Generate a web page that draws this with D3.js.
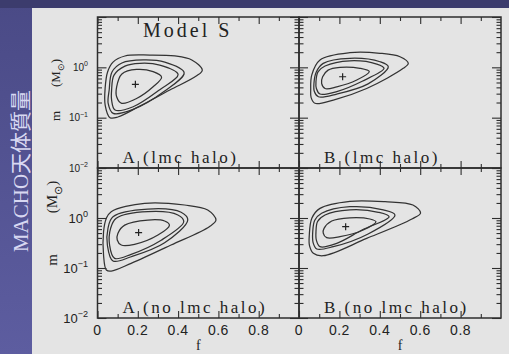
<!DOCTYPE html>
<meta charset="utf-8">
<html>
<head>
<title>MACHO mass contours</title>
<style>
  body { margin: 0; background: #4d4d8c; }
  svg { display: block; }
</style>
<script src="https://d3js.org/d3.v7.min.js"></script>
</head>
<body>
<div id="chart"></div>
<script>

// ##### data #####
var title = "Model S";
var sideTitle = "MACHO天体質量";
var panelNames = ["A (lmc halo)", "B (lmc halo)", "A (no lmc halo)", "B (no lmc halo)"];
var fDomain = [0, 1];
var mDomain = [0.01, 10];
var xTickLabels = ["0", "0.2", "0.4", "0.6", "0.8"];
var yLabelExps = [0, -1, -2];

// best fit (+) of each panel, [f, m]
var peaks = [[0.188, 0.46], [0.216, 0.65], [0.204, 0.51], [0.231, 0.67]];

// contours of each panel, inner to outer, points [f, m]
var contoursALmc = [
  [[0.095,0.41],[0.121,0.74],[0.194,0.91],[0.276,0.82],[0.318,0.64],[0.276,0.41],[0.194,0.24],[0.12,0.193],[0.095,0.26]],
  [[0.07,0.354],[0.082,0.70],[0.136,1.06],[0.21,1.20],[0.309,1.11],[0.40,0.72],[0.309,0.36],[0.177,0.165],[0.087,0.142],[0.07,0.224]],
  [[0.058,0.354],[0.072,0.81],[0.121,1.22],[0.227,1.40],[0.334,1.27],[0.43,0.78],[0.33,0.33],[0.177,0.146],[0.078,0.122],[0.053,0.193]],
  [[0.038,0.39],[0.05,0.81],[0.077,1.27],[0.136,1.68],[0.26,1.75],[0.384,1.68],[0.468,1.40],[0.52,0.88],[0.49,0.67],[0.359,0.354],[0.21,0.17],[0.101,0.103],[0.062,0.100],[0.038,0.178]]
];
var contoursBLmc = [
  [[0.117,0.65],[0.144,0.88],[0.203,1.0],[0.302,0.955],[0.348,0.82],[0.286,0.56],[0.187,0.41],[0.129,0.38],[0.112,0.48]],
  [[0.084,0.52],[0.094,0.81],[0.129,1.06],[0.252,1.35],[0.385,1.16],[0.421,0.955],[0.313,0.53],[0.187,0.33],[0.104,0.295],[0.086,0.38]],
  [[0.074,0.48],[0.085,0.80],[0.12,1.20],[0.252,1.51],[0.401,1.29],[0.442,1.03],[0.342,0.47],[0.187,0.295],[0.096,0.26],[0.076,0.33]],
  [[0.058,0.354],[0.063,0.70],[0.104,1.40],[0.252,1.95],[0.401,1.90],[0.5,1.62],[0.541,1.20],[0.516,0.955],[0.335,0.38],[0.17,0.224],[0.079,0.193],[0.06,0.25]]
];
var contoursANoLmc = [
  [[0.101,0.49],[0.135,0.72],[0.25,0.91],[0.333,0.87],[0.357,0.72],[0.30,0.457],[0.184,0.298],[0.118,0.288],[0.098,0.363]],
  [[0.065,0.62],[0.093,0.99],[0.25,1.34],[0.399,1.15],[0.428,0.84],[0.316,0.36],[0.167,0.188],[0.085,0.156],[0.06,0.288]],
  [[0.052,0.62],[0.077,1.06],[0.25,1.51],[0.415,1.30],[0.448,0.91],[0.333,0.32],[0.167,0.168],[0.077,0.138],[0.049,0.288]],
  [[0.03,0.53],[0.044,0.99],[0.068,1.34],[0.234,1.97],[0.432,1.82],[0.547,1.45],[0.588,0.91],[0.555,0.67],[0.365,0.288],[0.167,0.124],[0.068,0.087],[0.044,0.091],[0.03,0.182]]
];
var contoursBNoLmc = [
  [[0.124,0.62],[0.162,0.87],[0.252,1.01],[0.351,0.955],[0.381,0.84],[0.318,0.575],[0.203,0.423],[0.137,0.404],[0.12,0.50]],
  [[0.084,0.53],[0.092,0.85],[0.129,1.15],[0.252,1.45],[0.393,1.30],[0.446,1.06],[0.312,0.575],[0.187,0.312],[0.104,0.267],[0.086,0.36]],
  [[0.068,0.53],[0.078,0.90],[0.112,1.24],[0.252,1.68],[0.417,1.45],[0.475,1.15],[0.342,0.48],[0.17,0.267],[0.088,0.24],[0.07,0.32]],
  [[0.051,0.457],[0.064,1.0],[0.104,1.56],[0.252,2.16],[0.426,2.12],[0.564,1.82],[0.602,1.26],[0.559,0.955],[0.335,0.39],[0.12,0.176],[0.071,0.197],[0.052,0.28]]
];

// ##### layout #####
var width = 509, height = 354;
var cols = [[97.5, 299], [299, 501]];
var rows = [[17, 168], [168, 318]];
var ink = "#2e2e2e";

var svg = d3.select("#chart")
  .append("svg")
    .attr("width", width)
    .attr("height", height);

// slide background
var defs = svg.append("defs");
var grad = defs.append("linearGradient").attr("id", "strip")
    .attr("x1", 0).attr("y1", 0).attr("x2", 0).attr("y2", 1);
grad.append("stop").attr("offset", 0).attr("stop-color", "#4a4a86");
grad.append("stop").attr("offset", 1).attr("stop-color", "#5d5da0");

svg.append("rect")
    .attr("width", width).attr("height", height)
    .attr("fill", "url(#strip)");
svg.append("rect")
    .attr("width", width).attr("height", 8)
    .attr("fill", "#3c3c6d");
svg.append("rect")
    .attr("x", 32).attr("y", 8)
    .attr("width", width - 32).attr("height", height - 8)
    .attr("fill", "#e4e4e4");

// vertical title on the left strip
svg.append("text")
    .attr("transform", "translate(28,171) rotate(-90)")
    .attr("text-anchor", "middle")
    .style("font-family", "'Liberation Serif', 'Noto Sans CJK JP', serif")
    .style("font-size", "21px")
    .attr("fill", "#d8d8f2")
    .text(sideTitle);

var panels = [
  {name: panelNames[0], col: 0, row: 0, contours: contoursALmc, peak: peaks[0]},
  {name: panelNames[1], col: 1, row: 0, contours: contoursBLmc, peak: peaks[1]},
  {name: panelNames[2], col: 0, row: 1, contours: contoursANoLmc, peak: peaks[2]},
  {name: panelNames[3], col: 1, row: 1, contours: contoursBNoLmc, peak: peaks[3]}
];

var xMajor = [0, 0.2, 0.4, 0.6, 0.8];
var xMinor = [0.1, 0.3, 0.5, 0.7, 0.9];

panels.forEach(function(p) {
  var x = d3.scaleLinear().domain(fDomain).range(cols[p.col]);
  var y = d3.scaleLog().domain(mDomain).range([rows[p.row][1], rows[p.row][0]]);
  var g = svg.append("g");
  var x0 = cols[p.col][0], x1 = cols[p.col][1];
  var y0 = rows[p.row][0], y1 = rows[p.row][1];

  var yAll = y.ticks();
  var yMaj = yAll.filter(function(d) {
    var l = Math.log10(d); return Math.abs(l - Math.round(l)) < 1e-6; });
  var yMin = yAll.filter(function(d) { return yMaj.indexOf(d) < 0; });

  function ticks(axis, pos, vals, size) {
    g.append("g")
        .attr("transform", pos)
        .call(axis.tickValues(vals).tickSize(size).tickSizeOuter(0).tickFormat(""))
        .call(function(s) {
          s.select(".domain").remove();
          s.selectAll("line").attr("stroke", ink).attr("stroke-width", 1.1);
        });
  }
  ticks(d3.axisBottom(x), "translate(0," + y1 + ")", xMajor, -7);
  ticks(d3.axisBottom(x), "translate(0," + y1 + ")", xMinor, -4);
  ticks(d3.axisTop(x), "translate(0," + y0 + ")", xMajor, -7);
  ticks(d3.axisTop(x), "translate(0," + y0 + ")", xMinor, -4);
  ticks(d3.axisLeft(y), "translate(" + x0 + ",0)", yMaj, -9);
  ticks(d3.axisLeft(y), "translate(" + x0 + ",0)", yMin, -4.5);
  ticks(d3.axisRight(y), "translate(" + x1 + ",0)", yMaj, -9);
  ticks(d3.axisRight(y), "translate(" + x1 + ",0)", yMin, -4.5);

  // frame
  g.append("rect")
      .attr("x", x0).attr("y", y0)
      .attr("width", x1 - x0).attr("height", y1 - y0)
      .attr("fill", "none")
      .attr("stroke", ink)
      .attr("stroke-width", 1.5);

  // contours
  var line = d3.line()
      .x(function(d) { return x(d[0]); })
      .y(function(d) { return y(d[1]); })
      .curve(d3.curveCatmullRomClosed.alpha(0.5));

  g.selectAll(".contour")
      .data(p.contours)
    .enter().append("path")
      .attr("class", "contour")
      .attr("fill", "none")
      .attr("stroke", "#333")
      .attr("stroke-width", 1.25)
      .attr("d", line);

  // best fit cross
  var px = x(p.peak[0]), py = y(p.peak[1]);
  g.append("path")
      .attr("d", "M" + (px - 3.5) + "," + py + "H" + (px + 3.5) +
                 "M" + px + "," + (py - 3.5) + "V" + (py + 3.5))
      .attr("stroke", "#222")
      .attr("stroke-width", 1.2);

  // panel name
  g.append("text")
      .attr("x", x0 + 25).attr("y", y1 - 5.5)
      .style("font-family", "'Liberation Serif', serif")
      .style("font-size", "17px")
      .style("letter-spacing", "2.5px")
      .attr("fill", "#222")
      .text(p.name);

  // x tick labels and title on the bottom row
  if (p.row == 1) {
    g.selectAll(".xl")
        .data(xMajor)
      .enter().append("text")
        .attr("x", function(d) { return x(d); })
        .attr("y", 335)
        .attr("text-anchor", "middle")
        .style("font-family", "'Liberation Sans', sans-serif")
        .style("font-size", "14px")
        .style("letter-spacing", "0.5px")
        .attr("fill", "#222")
        .text(function(d, i) { return xTickLabels[i]; });
    g.append("text")
        .attr("x", x(0.5)).attr("y", 350)
        .attr("text-anchor", "middle")
        .style("font-family", "'Liberation Serif', serif")
        .style("font-size", "14px")
        .attr("fill", "#222")
        .text("f");
  }

  // y tick labels and title on the left column
  if (p.col == 0) {
    var fs = p.row == 0 ? 10 : 13;
    yLabelExps.forEach(function(e) {
      var t = g.append("text")
          .attr("x", 88).attr("y", y(Math.pow(10, e)) + fs * 0.35)
          .attr("text-anchor", "end")
          .style("font-family", "'Liberation Sans', sans-serif")
          .style("font-size", fs + "px")
          .attr("fill", "#222");
      t.append("tspan").text("10");
      t.append("tspan").attr("dy", -fs * 0.45).style("font-size", (fs * 0.7) + "px")
          .text(e < 0 ? "\u2212" + (-e) : e);
    });
    var ts = p.row == 0 ? 13 : 15;
    var my = p.row == 0 ? [116, 73] : [260, 197];
    var bx = p.row == 0 ? 60 : 57;
    g.append("text")
        .attr("transform", "translate(" + bx + "," + my[0] + ") rotate(-90)")
        .attr("text-anchor", "middle")
        .style("font-family", "'Liberation Serif', serif")
        .style("font-size", ts + "px")
        .attr("fill", "#222")
        .text("m");
    var mt = g.append("text")
        .attr("transform", "translate(" + bx + "," + my[1] + ") rotate(-90)")
        .attr("text-anchor", "middle")
        .style("font-family", "'Liberation Serif', serif")
        .style("font-size", ts + "px")
        .attr("fill", "#222");
    mt.append("tspan").text("(M");
    mt.append("tspan").attr("dy", ts * 0.3).style("font-size", (ts * 0.7) + "px").text("\u2299");
    mt.append("tspan").attr("dy", -ts * 0.3).text(")");
  }
});

// title
svg.append("text")
    .attr("x", 143).attr("y", 37)
    .style("font-family", "'Liberation Serif', serif")
    .style("font-size", "20px")
    .style("letter-spacing", "3px")
    .attr("fill", "#222")
    .text(title);

</script>
</body>
</html>
